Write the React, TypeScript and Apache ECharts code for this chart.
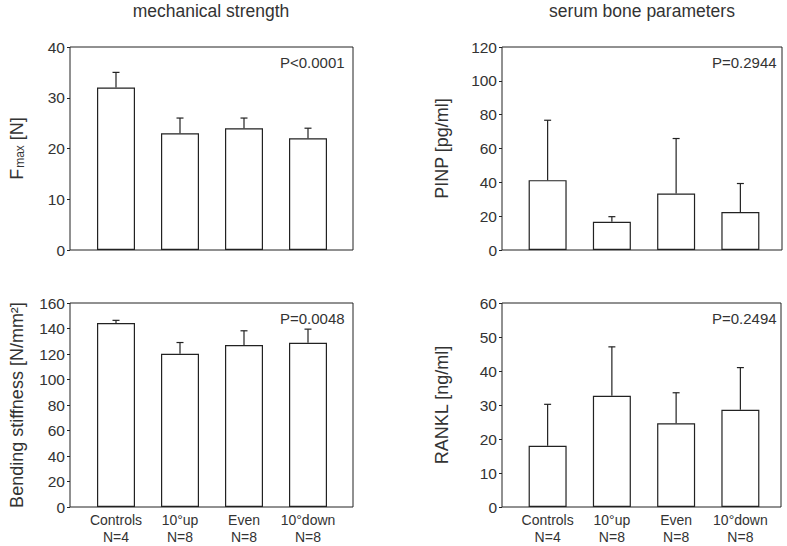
import React, { useEffect, useRef } from 'react';
import * as echarts from 'echarts';

const categories = ['Controls\nN=4', '10°up\nN=8', 'Even\nN=8', '10°down\nN=8'];
const fmaxMean = [32, 23, 24, 22];
const fmaxUpper = [35, 26, 26, 24];
const pinpMean = [41.3, 16.7, 33.4, 22.4];
const pinpUpper = [76.7, 19.7, 65.9, 39.3];
const stiffMean = [144.3, 120.1, 127, 128.8];
const stiffUpper = [146.4, 129, 138.2, 139.5];
const ranklMean = [18, 32.7, 24.6, 28.6];
const ranklUpper = [30.2, 47.1, 33.6, 41];
const yMax = [40, 120, 160, 60];
const yInterval = [10, 20, 20, 10];
const pValues = ['P<0.0001', 'P=0.2944', 'P=0.0048', 'P=0.2494'];
const axisNames = ['{a|F}{s|max}{a| [N]}', 'PINP [pg/ml]', 'Bending stiffness [N/mm²]', 'RANKL [ng/ml]'];
const panelTitles = ['mechanical strength', 'serum bone parameters'];

const FONT = '"Liberation Sans", Arial, sans-serif';
const TXT = '#333';
const LINE = '#222';

const panels = [
  { frame: { left: 70, top: 47, width: 283, height: 203 }, bars: { left: 84, width: 256 }, nameGap: 44, labels: false, mean: fmaxMean, upper: fmaxUpper },
  { frame: { left: 502, top: 47, width: 280, height: 203 }, bars: { left: 515.5, width: 257 }, nameGap: 51, labels: false, mean: pinpMean, upper: pinpUpper },
  { frame: { left: 70, top: 303, width: 283, height: 204 }, bars: { left: 84, width: 256 }, nameGap: 44, labels: true, mean: stiffMean, upper: stiffUpper },
  { frame: { left: 502, top: 303, width: 279, height: 204 }, bars: { left: 515.5, width: 257 }, nameGap: 51, labels: true, mean: ranklMean, upper: ranklUpper },
];

export default function App() {
  const ref = useRef<HTMLDivElement>(null);
  useEffect(() => {
    if (!ref.current) return;
    const chart = echarts.init(ref.current, undefined, { renderer: 'svg' });
    const grid: any[] = [];
    const xAxis: any[] = [];
    const yAxis: any[] = [];
    const series: any[] = [];
    const graphic: any[] = [];
    panels.forEach((p, i) => {
      grid.push({ ...p.frame, show: true, borderColor: LINE, borderWidth: 1, backgroundColor: 'transparent', containLabel: false });
      grid.push({ left: p.bars.left, width: p.bars.width, top: p.frame.top, height: p.frame.height, containLabel: false });
      xAxis.push({ gridIndex: 2 * i, type: 'value', show: false, min: 0, max: 1 });
      yAxis.push({ gridIndex: 2 * i, type: 'value', show: false, min: 0, max: 1 });
      xAxis.push({
        gridIndex: 2 * i + 1,
        type: 'category',
        data: categories,
        boundaryGap: true,
        axisLine: { show: false },
        axisTick: { show: false },
        axisLabel: { show: p.labels, color: TXT, fontSize: 14, lineHeight: 16.5, fontFamily: FONT, margin: 5, interval: 0 },
      });
      yAxis.push({
        gridIndex: 2 * i + 1,
        type: 'value',
        min: 0,
        max: yMax[i],
        interval: yInterval[i],
        offset: p.bars.left - p.frame.left,
        axisLine: { show: false },
        axisTick: { show: true, inside: false, length: 3, lineStyle: { color: LINE } },
        axisLabel: { color: TXT, fontSize: 15.5, fontFamily: FONT, margin: 5 },
        splitLine: { show: false },
        name: axisNames[i],
        nameLocation: 'middle',
        nameGap: p.nameGap,
        nameTextStyle: {
          color: TXT,
          fontSize: 18,
          fontFamily: FONT,
          rich: {
            a: { color: TXT, fontSize: 18, fontFamily: FONT },
            s: { color: TXT, fontSize: 12, fontFamily: FONT, verticalAlign: 'bottom', padding: [6, 0, 0, 1] },
          },
        },
      });
      series.push({
        type: 'bar',
        xAxisIndex: 2 * i + 1,
        yAxisIndex: 2 * i + 1,
        data: p.mean,
        barWidth: 38,
        itemStyle: { color: '#fff', borderColor: LINE, borderWidth: 1.2 },
        z: 2,
      });
      series.push({
        type: 'custom',
        xAxisIndex: 2 * i + 1,
        yAxisIndex: 2 * i + 1,
        data: p.upper.map((u, j) => [j, p.mean[j], u]),
        encode: { x: 0, y: [1, 2] },
        z: 3,
        renderItem: (params: any, api: any) => {
          const a = api.coord([api.value(0), api.value(1)]);
          const b = api.coord([api.value(0), api.value(2)]);
          const st = { stroke: LINE, lineWidth: 1.2 };
          return {
            type: 'group',
            children: [
              { type: 'line', shape: { x1: a[0], y1: a[1], x2: b[0], y2: b[1] }, style: st },
              { type: 'line', shape: { x1: b[0] - 3.5, y1: b[1], x2: b[0] + 3.5, y2: b[1] }, style: st },
            ],
          };
        },
      });
      graphic.push({
        type: 'text',
        x: p.frame.left + 210,
        y: p.frame.top + 15,
        style: { text: pValues[i], fill: TXT, font: `15px ${FONT}`, textAlign: 'left', textVerticalAlign: 'middle' },
      });
    });
    graphic.push({ type: 'text', x: 211, y: 11, style: { text: panelTitles[0], fill: TXT, font: `17.5px ${FONT}`, textAlign: 'center', textVerticalAlign: 'middle' } });
    graphic.push({ type: 'text', x: 642, y: 11, style: { text: panelTitles[1], fill: TXT, font: `17.5px ${FONT}`, textAlign: 'center', textVerticalAlign: 'middle' } });

    chart.setOption({
      animation: false,
      backgroundColor: '#fff',
      textStyle: { fontFamily: FONT },
      grid,
      xAxis,
      yAxis,
      series,
      graphic,
    });
    return () => chart.dispose();
  }, []);
  return <div ref={ref} style={{ width: 787, height: 546, position: 'absolute', left: 0, top: 0 }} />;
}
